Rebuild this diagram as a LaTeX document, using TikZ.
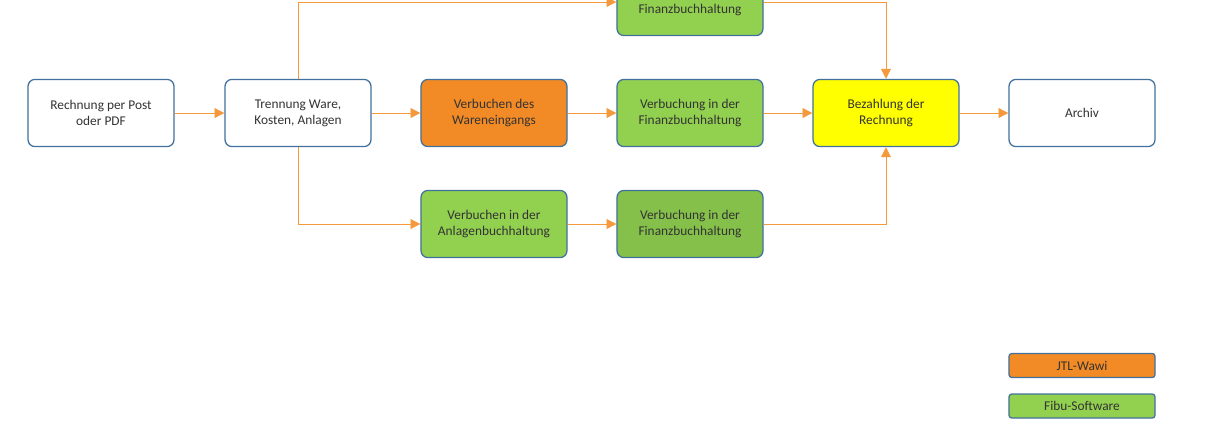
\documentclass[tikz,border=0pt]{standalone}
\usepackage{fontspec}
\setmainfont{Carlito}
\usetikzlibrary{positioning, arrows.meta, calc}
\definecolor{boxline}{HTML}{41719C}
\definecolor{flowline}{HTML}{F59A3C}
\definecolor{wawi}{HTML}{F28A25}
\definecolor{fibu}{HTML}{92D050}
\definecolor{fibudark}{HTML}{84C04A}
\definecolor{pay}{HTML}{FFFF00}

\begin{document}
\begin{tikzpicture}[
        x=0.025cm, y=-0.025cm,
        stepbox/.style={rectangle, rounded corners=5pt, draw=boxline, line width=0.9pt, fill=white,
            minimum width=3.65cm, minimum height=1.68cm, align=center,
            font=\fontsize{9.5}{11.5}\selectfont, text=black!80},
        legendbox/.style={rectangle, rounded corners=2pt, draw=boxline, line width=0.9pt,
            minimum width=3.65cm, minimum height=0.6cm, font=\fontsize{9.5}{11.5}\selectfont, text=black!80},
        flow/.style={draw=flowline, line width=0.6pt, -{Triangle[length=7pt, width=7pt]}}
    ]
    \useasboundingbox (0,0) rectangle (1210,423);
    \clip (0,0) rectangle (1210,423);

    \node[stepbox] (post) at (101,113) {Rechnung per Post\\oder PDF};
    \node[stepbox] (split) at (298,113) {Trennung Ware,\\Kosten, Anlagen};
    \node[stepbox, fill=wawi] (ware) at (494,113) {Verbuchen des\\Wareneingangs};
    \node[stepbox, fill=fibu] (fibumid) at (690,113) {Verbuchung in der\\Finanzbuchhaltung};
    \node[stepbox, fill=fibu] (fibutop) at (690,2) {Verbuchung in der\\Finanzbuchhaltung};
    \node[stepbox, fill=fibu] (anlage) at (494,224) {Verbuchen in der\\Anlagenbuchhaltung};
    \node[stepbox, fill=fibudark] (fibulow) at (690,224) {Verbuchung in der\\Finanzbuchhaltung};
    \node[stepbox, fill=pay] (pay) at (886,113) {Bezahlung der\\Rechnung};
    \node[stepbox] (archiv) at (1082,113) {Archiv};

    % legend
    \node[legendbox, fill=wawi] (lgwawi) at (1082,365.5) {JTL-Wawi};
    \node[legendbox, fill=fibu] (lgfibu) at (1082,406) {Fibu-Software};

    % main line
    \draw[flow] (post) -- (split);
    \draw[flow] (split) -- (ware);
    \draw[flow] (ware) -- (fibumid);
    \draw[flow] (fibumid) -- (pay);
    \draw[flow] (pay) -- (archiv);
    % branches
    \draw[flow] (split.north) |- (fibutop.west);
    \draw[flow] (fibutop.east) -| (pay.north);
    \draw[flow] (split.south) |- (anlage.west);
    \draw[flow] (anlage) -- (fibulow);
    \draw[flow] (fibulow.east) -| (pay.south);
\end{tikzpicture}
\end{document}
